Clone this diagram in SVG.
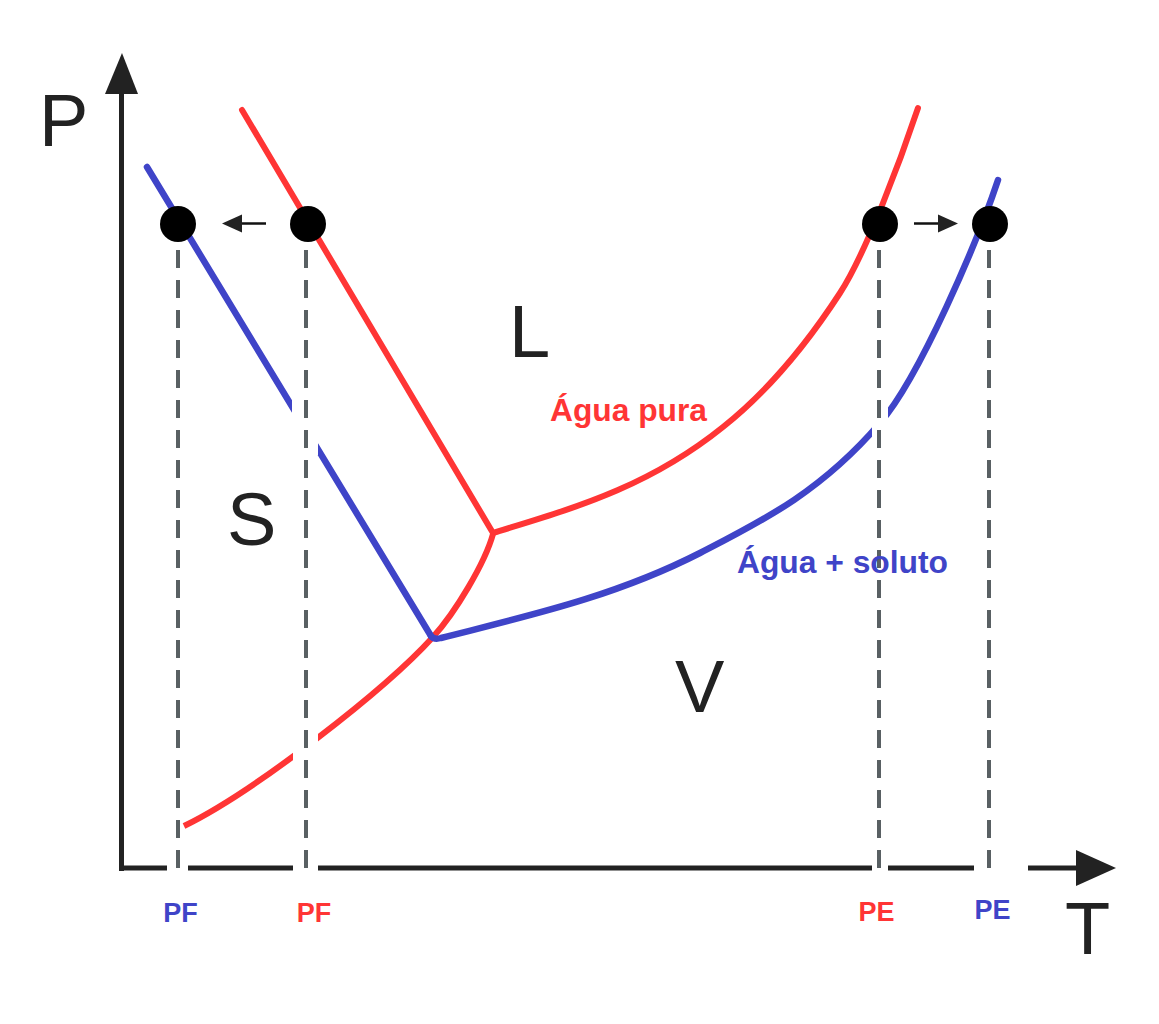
<svg xmlns="http://www.w3.org/2000/svg" width="1159" height="1024" viewBox="0 0 1159 1024">
<style>
.axis{stroke:#222;stroke-width:5;fill:none}
.head{fill:#222}
.dash{stroke:#596063;stroke-width:4;stroke-dasharray:18 12;fill:none}
.red{stroke:#ff3535;stroke-width:6;fill:none;stroke-linecap:round;stroke-linejoin:round}
.blue{stroke:#3f44c8;stroke-width:6.5;fill:none;stroke-linecap:round;stroke-linejoin:round}
.big{font-family:"Liberation Sans",Arial,sans-serif;font-size:74px;fill:#222}
.lab{font-family:"Liberation Sans",Arial,sans-serif;font-weight:bold}
.r{fill:#ff3535}
.b{fill:#3f44c8}
.dot{fill:#000}
.arr{stroke:#111;stroke-width:2.5}
</style>
<defs>
<mask id="gaps" maskUnits="userSpaceOnUse" x="0" y="0" width="1159" height="1024">
<rect x="0" y="0" width="1159" height="1024" fill="#fff"/>
<rect x="292" y="395" width="26" height="60" fill="#000"/>
<rect x="293" y="728" width="25" height="50" fill="#000"/>
<rect x="872" y="395" width="16" height="60" fill="#000"/>
</mask>
</defs>
<rect width="1159" height="1024" fill="#fff"/>
<g id="axes">
<line class="axis" x1="121.5" y1="871" x2="121.5" y2="92"/>
<polygon class="head" points="122,53 105,94 138,94"/>
<path class="axis" d="M119,868 H167 M188,868 H293 M318,868 H872 M888,868 H974 M1028,868 H1080"/>
<polygon class="head" points="1076,850 1116,868 1076,886"/>
<text class="big" x="39" y="146">P</text>
<text class="big" x="1065" y="954">T</text>
</g>
<g id="connectors">
<g id="curves" mask="url(#gaps)">
<path id="red-fusion" class="red" d="M242,110 L493,533"/>
<path id="red-vaporization" class="red" d="M493,533 C570,509 646,489 723,427 C762,396 801,353 840,293 C866,253 901,159 918,108"/>
<path id="red-sublimation" class="red" style="stroke-linecap:butt" d="M493,534 C485,563 455,613 433,637 C385,690 254,792 184,826"/>
<path id="blue-fusion" class="blue" d="M147,167 L431,636"/>
<path id="blue-vaporization" class="blue" d="M431,636 Q434,640 441,638 C527,616 614,597 700,553 C760,522 820,493 880,423 C920,377 978,240 998,180"/>
</g>
<g id="dashed">
<line class="dash" x1="178" y1="250" x2="178" y2="868"/>
<line class="dash" x1="306" y1="250" x2="306" y2="868"/>
<line class="dash" x1="879" y1="250" x2="879" y2="868"/>
<line class="dash" x1="989" y1="250" x2="989" y2="868"/>
</g>
<g id="shift-arrows">
<line class="arr" x1="266" y1="223.5" x2="240" y2="223.5"/>
<polygon class="head" points="222,223.5 242,214.5 242,232.5"/>
<line class="arr" x1="914" y1="223.5" x2="940" y2="223.5"/>
<polygon class="head" points="958,223.5 938,214.5 938,232.5"/>
</g>
</g>
<g id="pf-solute"><circle class="dot" cx="178" cy="224" r="18"/></g>
<g id="pf-pure"><circle class="dot" cx="308" cy="224" r="18"/></g>
<g id="pe-pure"><circle class="dot" cx="880" cy="224" r="18"/></g>
<g id="pe-solute"><circle class="dot" cx="990" cy="224" r="18"/></g>
<g id="regions">
<text class="big" x="509" y="357">L</text>
<text class="big" x="227" y="545">S</text>
<text class="big" x="675" y="712">V</text>
</g>
<g id="curve-labels">
<text class="lab r" x="550" y="421" font-size="31" textLength="157" lengthAdjust="spacingAndGlyphs">Água pura</text>
<text class="lab b" x="737" y="573" font-size="31" textLength="211" lengthAdjust="spacingAndGlyphs">Água + soluto</text>
</g>
<g id="axis-labels" font-size="27" text-anchor="middle">
<text class="lab b" x="180.5" y="922">PF</text>
<text class="lab r" x="314" y="922">PF</text>
<text class="lab r" x="876.5" y="921">PE</text>
<text class="lab b" x="992.5" y="919">PE</text>
</g>
</svg>
